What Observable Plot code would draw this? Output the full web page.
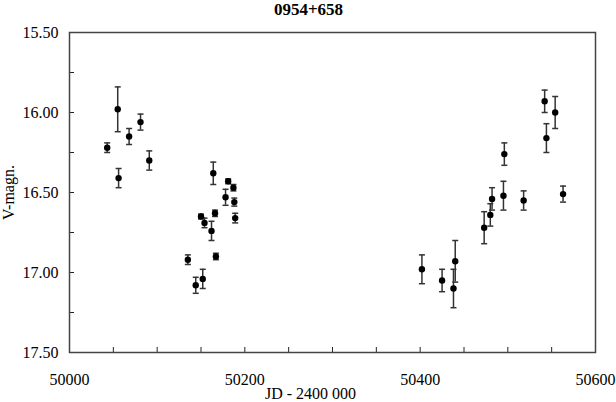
<!DOCTYPE html>
<html>
<head>
<meta charset="utf-8">
<script src="https://cdn.jsdelivr.net/npm/d3@7"></script>
<script src="https://cdn.jsdelivr.net/npm/@observablehq/plot@0.6"></script>
<style>
  html, body { margin: 0; padding: 0; background: #fff; }
</style>
</head>
<body>
<div id="chart"></div>
<script>
const title = "0954+658";
const xLabel = "JD - 2400 000";
const yLabel = "V-magn.";

const jd  = [50043, 50055, 50056, 50068, 50081, 50091, 50135, 50144, 50150, 50152,
             50154, 50162, 50164, 50166, 50167, 50178, 50181, 50187, 50188, 50189,
             50402, 50425, 50438, 50440, 50473, 50480, 50482, 50495, 50496, 50518,
             50542, 50544, 50554, 50563];
const mag = [16.22, 15.98, 16.41, 16.15, 16.06, 16.30, 16.92, 17.08, 16.65, 17.04,
             16.69, 16.74, 16.38, 16.63, 16.90, 16.53, 16.43, 16.47, 16.56, 16.66,
             16.98, 17.05, 17.10, 16.93, 16.72, 16.64, 16.54, 16.52, 16.26, 16.55,
             15.93, 16.16, 16.00, 16.51];
const err = [0.03, 0.14, 0.06, 0.05, 0.05, 0.06, 0.03, 0.05, 0.015, 0.06,
             0.03, 0.06, 0.07, 0.02, 0.02, 0.05, 0.015, 0.02, 0.025, 0.03,
             0.09, 0.07, 0.12, 0.13, 0.10, 0.07, 0.07, 0.09, 0.07, 0.06,
             0.07, 0.09, 0.10, 0.05];

const xTickLabels = [50000, 50200, 50400, 50600];
const xMinorTicks = [50050, 50100, 50150, 50200, 50250, 50300, 50350, 50400, 50450, 50500, 50550];
const yTickLabels = [15.5, 16.0, 16.5, 17.0, 17.5];
const yMinorTicks = [15.75, 16.0, 16.25, 16.5, 16.75, 17.0, 17.25];

const data = jd.map((d, i) => ({jd: d, mag: mag[i], err: err[i]}));

const W = 616, H = 402;
const mL = 69, mR = 21, mT = 32, mB = 50;
const innerW = W - mL - mR, innerH = H - mT - mB;

const cap = {
  draw(context, size) {
    const r = Math.sqrt(size / Math.PI);
    context.moveTo(-r, 0);
    context.lineTo(r, 0);
  }
};

const chart = Plot.plot({
  width: W,
  height: H,
  marginLeft: mL,
  marginRight: mR,
  marginTop: mT,
  marginBottom: mB,
  style: {fontFamily: "'Liberation Serif', 'DejaVu Serif', serif", fontSize: "16px", color: "#000", background: "#fff"},
  x: {domain: [50000, 50600]},
  y: {domain: [15.5, 17.5], reverse: true},
  marks: [
    Plot.axisX({ticks: xTickLabels, tickSize: 0, tickPadding: 21, tickFormat: d3.format("d"), label: null, fontSize: 16}),
    Plot.axisY({ticks: yTickLabels, tickSize: 0, tickPadding: 11, tickFormat: d3.format(".2f"), label: null, fontSize: 16}),
    Plot.tickX(xMinorTicks, {x: d => d, insetTop: innerH - 5, stroke: "#222"}),
    Plot.tickY(yMinorTicks, {y: d => d, insetRight: innerW - 5, stroke: "#222"}),
    Plot.frame({stroke: "#444", strokeWidth: 1.5}),
    Plot.ruleX(data, {x: "jd", y1: d => d.mag - d.err, y2: d => d.mag + d.err, stroke: "#333", strokeWidth: 1.5}),
    Plot.dot(data, {x: "jd", y: d => d.mag - d.err, symbol: cap, r: 3, stroke: "#333", strokeWidth: 1.5, fill: "none"}),
    Plot.dot(data, {x: "jd", y: d => d.mag + d.err, symbol: cap, r: 3, stroke: "#333", strokeWidth: 1.5, fill: "none"}),
    Plot.dot(data, {x: "jd", y: "mag", r: 3.2, fill: "#000", stroke: "none"}),
    Plot.text([title], {frameAnchor: "top", dx: -24, dy: -23, text: d => d, textAnchor: "middle", lineAnchor: "middle", fontWeight: "bold", fontSize: 17}),
    Plot.text([xLabel], {frameAnchor: "bottom", dx: -22, dy: 41, text: d => d, textAnchor: "middle", lineAnchor: "middle", fontSize: 16}),
    Plot.text([yLabel], {frameAnchor: "left", dx: -61, rotate: -90, text: d => d, textAnchor: "middle", lineAnchor: "middle", fontSize: 16})
  ]
});

document.getElementById("chart").appendChild(chart);
</script>
</body>
</html>
